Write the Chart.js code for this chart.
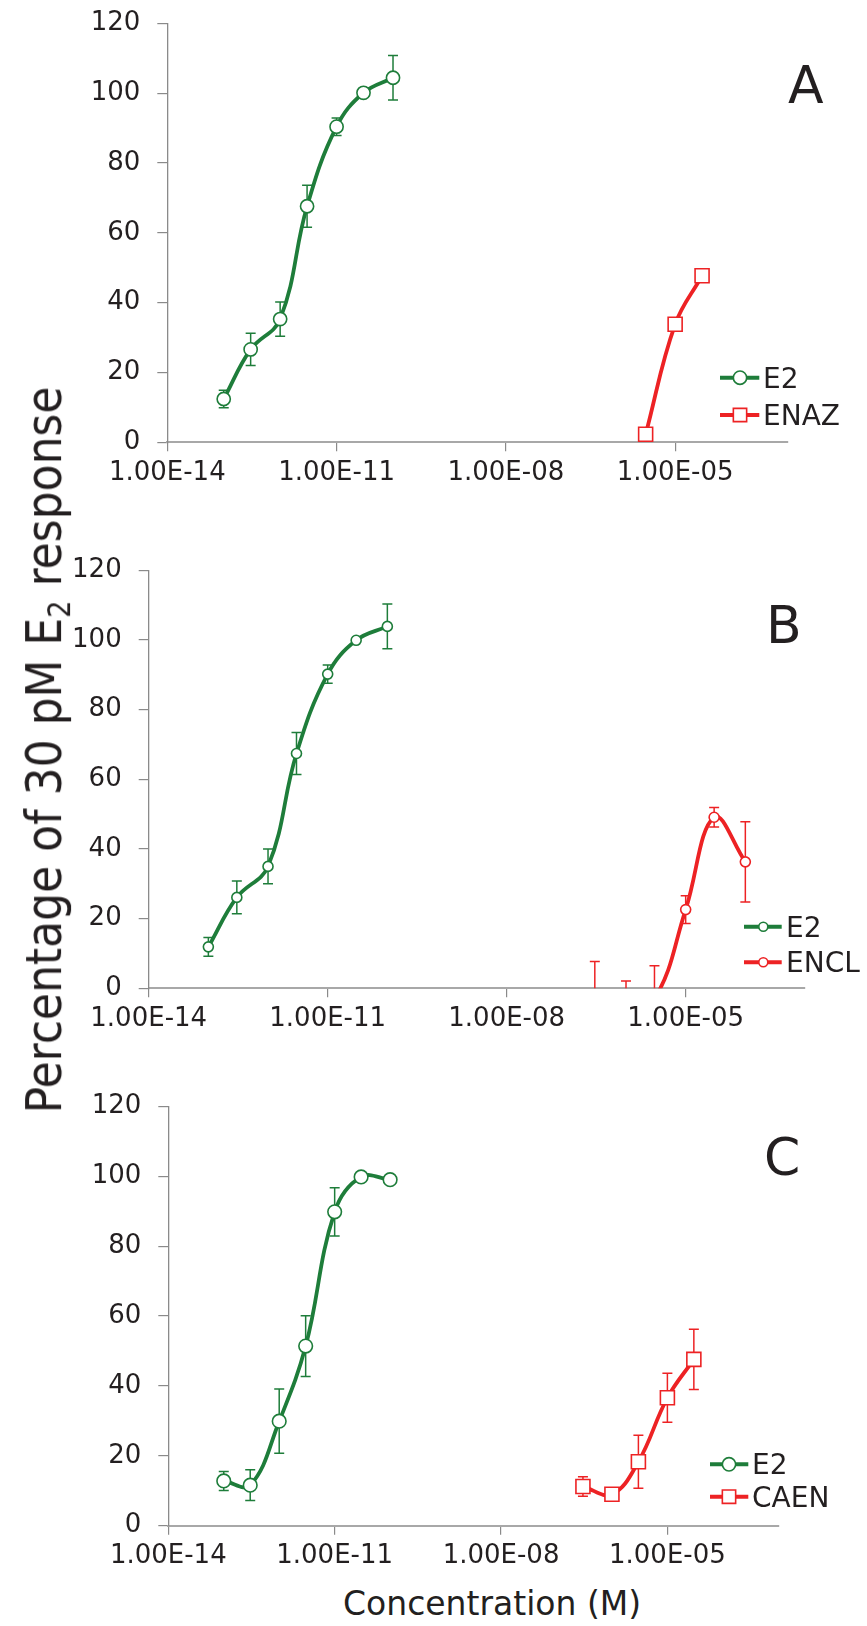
<!DOCTYPE html>
<html>
<head>
<meta charset="utf-8">
<script src="https://cdn.jsdelivr.net/npm/chart.js@4.4.0/dist/chart.umd.min.js"></script>
<style>
  body {
    margin: 0;
    background: #fff;
    width: 867px;
    height: 1626px;
    position: relative;
    overflow: hidden;
    font-family: "DejaVu Sans", sans-serif;
    color: #231f20;
  }
  canvas {
    position: absolute;
    left: 0;
  }
  #yTitle {
    position: absolute;
    left: 44px;
    top: 750px;
    transform: translate(-50%, -50%) scaleX(1.15) rotate(-90deg);
    white-space: nowrap;
    font-size: 44px;
    line-height: 1;
  }
  #yTitle span {
    font-size: 0.62em;
    position: relative;
    top: 0.3em;
  }
  #xTitle {
    position: absolute;
    left: 343px;
    top: 1587px;
    white-space: nowrap;
    font-size: 33px;
    line-height: 1;
  }
</style>
</head>
<body>
<canvas id="chartA" width="867" height="500" style="top:0px"></canvas>
<canvas id="chartB" width="867" height="520" style="top:530px"></canvas>
<canvas id="chartC" width="867" height="510" style="top:1070px"></canvas>
<div id="yTitle">Percentage of 30 pM E<span>2</span> response</div>
<div id="xTitle">Concentration (M)</div>

<script>
// concentrations (M)
const e2Conc = [1e-13, 3e-13, 1e-12, 3e-12, 1e-11, 3e-11, 1e-10];
const enazConc = [3e-6, 1e-5, 3e-5];
const enclConc = [3e-7, 1e-6, 3e-6, 1e-5, 3e-5, 1e-4];
const caenConc = [3e-7, 1e-6, 3e-6, 1e-5, 3e-5];

// panel A
const e2A = [12.4, 26.6, 35.3, 67.6, 90.4, 100.1, 104.4];
const e2AErr = [2.5, 4.6, 4.9, 6.0, 2.5, 0.5, 6.4];
const enaz = [2.3, 33.8, 47.7];
const enazErr = [0.4, 0.8, 1.2];

// panel B
const e2B = [11.9, 26.1, 35.0, 67.4, 90.2, 99.9, 103.9];
const e2BErr = [2.7, 4.7, 5.0, 6.0, 2.6, 0.5, 6.4];
const encl = [-4, -5, -3, 22.6, 49.1, 36.3];
const enclErr = [11.7, 7.1, 9.5, 4.0, 2.8, 11.5];

// panel C
const e2C = [12.8, 11.6, 29.9, 51.4, 89.8, 99.8, 99.0];
const e2CErr = [2.7, 4.4, 9.2, 8.7, 6.9, 0.5, 0.5];
const caen = [11.2, 9.0, 18.3, 36.6, 47.6];
const caenErr = [2.8, 0.8, 7.6, 7.0, 8.6];

const xTickValues = [1e-14, 1e-11, 1e-8, 1e-5];
const yMin = 0, yMax = 120, yStep = 20;

const GREEN = "#1e7d3a";
const RED = "#ed2224";
const TEXT = "#231f20";
const FONT = '"DejaVu Sans", sans-serif';

function fmtConc(v) {
  const exp = Math.round(Math.log10(v));
  const sign = exp < 0 ? "-" : "+";
  return "1.00E" + sign + String(Math.abs(exp)).padStart(2, "0");
}

function toPoints(xs, ys) {
  return xs.map((x, i) => ({ x: x, y: ys[i] }));
}

// vertical error bars with caps, drawn under the lines
const errorBars = {
  id: "errorBars",
  beforeDatasetsDraw(chart) {
    const { ctx, chartArea, scales } = chart;
    ctx.save();
    ctx.beginPath();
    ctx.rect(chartArea.left, chartArea.top, chartArea.width, chartArea.height);
    ctx.clip();
    chart.data.datasets.forEach((ds) => {
      if (!ds.errors) return;
      ctx.strokeStyle = ds.errorColor;
      ctx.lineWidth = 1.5;
      ds.data.forEach((pt, i) => {
        const e = ds.errors[i];
        if (!e) return;
        const px = scales.x.getPixelForValue(pt.x);
        const top = scales.y.getPixelForValue(pt.y + e);
        const bot = scales.y.getPixelForValue(pt.y - e);
        ctx.beginPath();
        ctx.moveTo(px, top);
        ctx.lineTo(px, bot);
        ctx.moveTo(px - 5, top);
        ctx.lineTo(px + 5, top);
        ctx.moveTo(px - 5, bot);
        ctx.lineTo(px + 5, bot);
        ctx.stroke();
      });
    });
    ctx.restore();
  },
};

// legend (line-marker-line) and panel letter
const panelDecor = {
  id: "panelDecor",
  afterDraw(chart, args, opts) {
    const ctx = chart.ctx;
    const off = opts.offsetTop;
    ctx.save();
    opts.items.forEach((it, i) => {
      const y = opts.rows[i] - off;
      ctx.strokeStyle = it.color;
      ctx.lineWidth = 4;
      ctx.beginPath();
      ctx.moveTo(opts.lineFrom, y);
      ctx.lineTo(opts.lineTo, y);
      ctx.stroke();
      ctx.fillStyle = "#fff";
      ctx.lineWidth = 1.6;
      ctx.beginPath();
      if (it.style === "rect") {
        const s = it.size;
        ctx.rect(opts.markerX - s / 2, y - s / 2, s, s);
      } else {
        ctx.arc(opts.markerX, y, it.size / 2, 0, Math.PI * 2);
      }
      ctx.fill();
      ctx.stroke();
      ctx.fillStyle = TEXT;
      ctx.font = "28px " + FONT;
      ctx.textBaseline = "alphabetic";
      ctx.textAlign = "left";
      ctx.fillText(it.label, opts.textX, y + 10);
    });
    ctx.font = "52px " + FONT;
    ctx.fillStyle = TEXT;
    ctx.fillText(opts.letter, opts.letterX, opts.letterY - off);
    ctx.restore();
  },
};

function lineSet(label, xs, ys, errs, color, style, radius, clip) {
  return {
    label: label,
    data: toPoints(xs, ys),
    errors: errs,
    errorColor: color,
    borderColor: color,
    borderWidth: 3.8,
    tension: 0.4,
    fill: false,
    pointStyle: style,
    pointRadius: radius,
    pointBackgroundColor: "#fff",
    pointBorderColor: color,
    pointBorderWidth: 1.6,
    clip: clip,
  };
}

function makeChart(id, datasets, geo, decor) {
  return new Chart(document.getElementById(id), {
    type: "line",
    data: { datasets: datasets },
    options: {
      responsive: false,
      animation: false,
      layout: { padding: { top: geo.top, right: geo.right, left: 0, bottom: 0 } },
      plugins: {
        legend: { display: false },
        tooltip: { enabled: false },
        panelDecor: decor,
      },
      scales: {
        x: {
          type: "logarithmic",
          min: 1e-14,
          max: 1e-3,
          afterBuildTicks: (s) => {
            s.ticks = xTickValues.map((v) => ({ value: v }));
          },
          afterFit: (s) => {
            s.height = geo.xHeight;
          },
          ticks: {
            callback: (v) => fmtConc(v),
            autoSkip: false,
            maxRotation: 0,
            padding: 6,
            color: TEXT,
            font: { family: FONT, size: 26 },
          },
          grid: { drawOnChartArea: false, tickLength: 9, color: "#8a8a8a", lineWidth: 1.2 },
          border: { color: "#a8a8a8", width: 2 },
        },
        y: {
          min: yMin,
          max: yMax,
          afterFit: (s) => {
            s.width = geo.yWidth;
            s.paddingTop = 0;
            s.paddingBottom = 0;
          },
          ticks: {
            stepSize: yStep,
            padding: 17,
            color: TEXT,
            font: { family: FONT, size: 26 },
          },
          grid: { drawOnChartArea: false, tickLength: 10, color: "#8a8a8a", lineWidth: 1.2 },
          border: { color: "#8a8a8a", width: 1.3 },
        },
      },
    },
    plugins: [errorBars, panelDecor],
  });
}

makeChart(
  "chartA",
  [
    lineSet("E2", e2Conc, e2A, e2AErr, GREEN, "circle", 6.6, false),
    lineSet("ENAZ", enazConc, enaz, enazErr, RED, "rect", 9.9, false),
  ],
  { top: 23.3, right: 79, xHeight: 57.7, yWidth: 167.3 },
  {
    offsetTop: 0,
    items: [
      { label: "E2", color: GREEN, style: "circle", size: 13.3 },
      { label: "ENAZ", color: RED, style: "rect", size: 13.3 },
    ],
    rows: [377.7, 415],
    lineFrom: 720,
    lineTo: 759.3,
    markerX: 740,
    textX: 763,
    letter: "A",
    letterX: 788,
    letterY: 103.3,
  }
);

makeChart(
  "chartB",
  [
    lineSet("E2", e2Conc, e2B, e2BErr, GREEN, "circle", 5, false),
    lineSet("ENCL", enclConc, encl, enclErr, RED, "circle", 5, undefined),
  ],
  { top: 40.3, right: 62, xHeight: 61.7, yWidth: 148.7 },
  {
    offsetTop: 530,
    items: [
      { label: "E2", color: GREEN, style: "circle", size: 9 },
      { label: "ENCL", color: RED, style: "circle", size: 9 },
    ],
    rows: [926.7, 962.3],
    lineFrom: 744,
    lineTo: 781.7,
    markerX: 763.3,
    textX: 786,
    letter: "B",
    letterX: 766,
    letterY: 643,
  }
);

makeChart(
  "chartC",
  [
    lineSet("E2", e2Conc, e2C, e2CErr, GREEN, "circle", 6.8, false),
    lineSet("CAEN", caenConc, caen, caenErr, RED, "rect", 9.9, false),
  ],
  { top: 36.3, right: 88.7, xHeight: 54.3, yWidth: 168.3 },
  {
    offsetTop: 1070,
    items: [
      { label: "E2", color: GREEN, style: "circle", size: 13.3 },
      { label: "CAEN", color: RED, style: "rect", size: 13.3 },
    ],
    rows: [1464.3, 1496.7],
    lineFrom: 710,
    lineTo: 748.3,
    markerX: 729,
    textX: 752,
    letter: "C",
    letterX: 764,
    letterY: 1175,
  }
);
</script>
</body>
</html>
